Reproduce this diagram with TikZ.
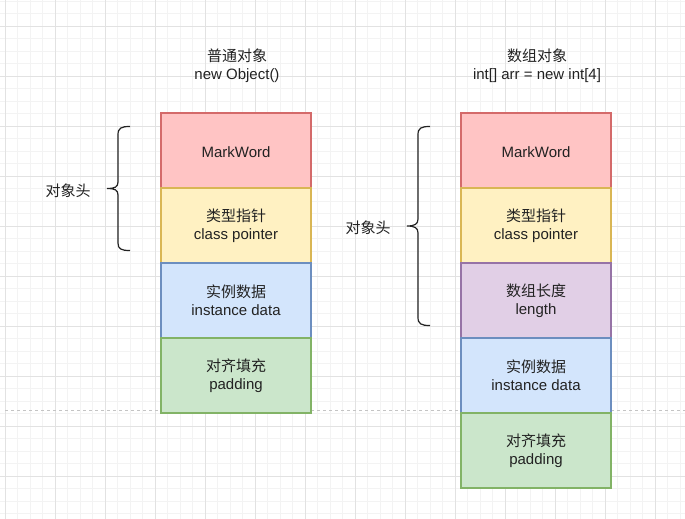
\documentclass[tikz,border=0pt]{standalone}
\usepackage{fontspec}
\setmainfont{Liberation Sans}
\newfontfamily\cjk{Noto Sans CJK SC}
\definecolor{gminorc}{HTML}{F3F3F3}
\definecolor{gmajorc}{HTML}{E2E2E2}
\definecolor{txtc}{HTML}{222222}
\definecolor{redfill}{HTML}{FFC4C4}
\definecolor{redline}{HTML}{D46A6A}
\definecolor{yelfill}{HTML}{FFF1C2}
\definecolor{yelline}{HTML}{D9B654}
\definecolor{bluefill}{HTML}{D3E5FC}
\definecolor{blueline}{HTML}{6C8EBF}
\definecolor{purfill}{HTML}{E1CFE6}
\definecolor{purline}{HTML}{9673A6}
\definecolor{grnfill}{HTML}{CBE6CB}
\definecolor{grnline}{HTML}{82B366}
\definecolor{dashc}{HTML}{C4C4C4}
\definecolor{bracec}{HTML}{222222}
\tikzset{
  gminor/.style={draw=gminorc, line width=0.8pt},
  gmajor/.style={draw=gmajorc, line width=0.8pt},
  txt/.style={text=txtc, font=\fontsize{15pt}{18pt}\selectfont, align=center, inner sep=0pt},
  cell/.style={txt, draw, line width=1.2pt, minimum width=150pt, minimum height=75pt,
    execute at begin node={\rule{0pt}{14.5pt}}},
  cellred/.style={cell, fill=redfill, draw=redline},
  cellyel/.style={cell, fill=yelfill, draw=yelline},
  cellblue/.style={cell, fill=bluefill, draw=blueline},
  cellpur/.style={cell, fill=purfill, draw=purline},
  cellgrn/.style={cell, fill=grnfill, draw=grnline},
  dashline/.style={draw=dashc, line width=0.9pt, dash pattern=on 3pt off 3pt},
  bracestyle/.style={draw=bracec, line width=1.2pt},
}
\begin{document}
\begin{tikzpicture}[x=1pt,y=-1pt]
\useasboundingbox (0,0) rectangle (685,519);
\fill[white] (0,0) rectangle (685,519);
% grid
\foreach \i in {0,...,54} { \draw[gminor] (5+\i*12.5,0) -- (5+\i*12.5,519); }
\foreach \i in {-2,...,39} { \draw[gminor] (0,26+\i*12.5) -- (685,26+\i*12.5); }
\foreach \i in {0,...,13} { \draw[gmajor] (5+\i*50,0) -- (5+\i*50,519); }
\foreach \i in {0,...,9} { \draw[gmajor] (0,26+\i*50) -- (685,26+\i*50); }
% dashed line
\coordinate (dl) at (5,410);
\coordinate (dr) at (685,410);
\draw[dashline] (dl) -- (dr);
% titles
\node[txt] (t1) at (237,65.5) {{\cjk 普通对象}\\new Object()};
\node[txt] (t2) at (537,65.5) {{\cjk 数组对象}\\int[] arr = new int[4]};
% left column
\node[cellred]  (a1) at (236,150.5) {MarkWord};
\node[cellyel]  (a2) at (236,225.5) {{\cjk 类型指针}\\class pointer};
\node[cellblue] (a3) at (236,300.5) {{\cjk 实例数据}\\instance data};
\node[cellgrn]  (a4) at (236,375.5) {{\cjk 对齐填充}\\padding};
% right column
\node[cellred]  (b1) at (536,150.5) {MarkWord};
\node[cellyel]  (b2) at (536,225.5) {{\cjk 类型指针}\\class pointer};
\node[cellpur]  (b3) at (536,300.5) {{\cjk 数组长度}\\length};
\node[cellblue] (b4) at (536,375.5) {{\cjk 实例数据}\\instance data};
\node[cellgrn]  (b5) at (536,450.5) {{\cjk 对齐填充}\\padding};
% braces
\draw[bracestyle] (130,126.5) .. controls (121,126.5) and (118,128) .. (118,135)
  -- (118,182) .. controls (118,187) and (115,188.5) .. (107,188.5)
  .. controls (115,188.5) and (118,190) .. (118,195)
  -- (118,243) .. controls (118,249) and (121,250.5) .. (130,250.5);
\draw[bracestyle] (430,126.5) .. controls (421,126.5) and (418,128) .. (418,135)
  -- (418,219) .. controls (418,224) and (415,226) .. (407,226)
  .. controls (415,226) and (418,228) .. (418,233)
  -- (418,317) .. controls (418,324) and (421,325.5) .. (430,325.5);
\node[txt] (l1) at (68,190.5) {\cjk 对象头};
\node[txt] (l2) at (368,228) {\cjk 对象头};
\end{tikzpicture}
\end{document}
